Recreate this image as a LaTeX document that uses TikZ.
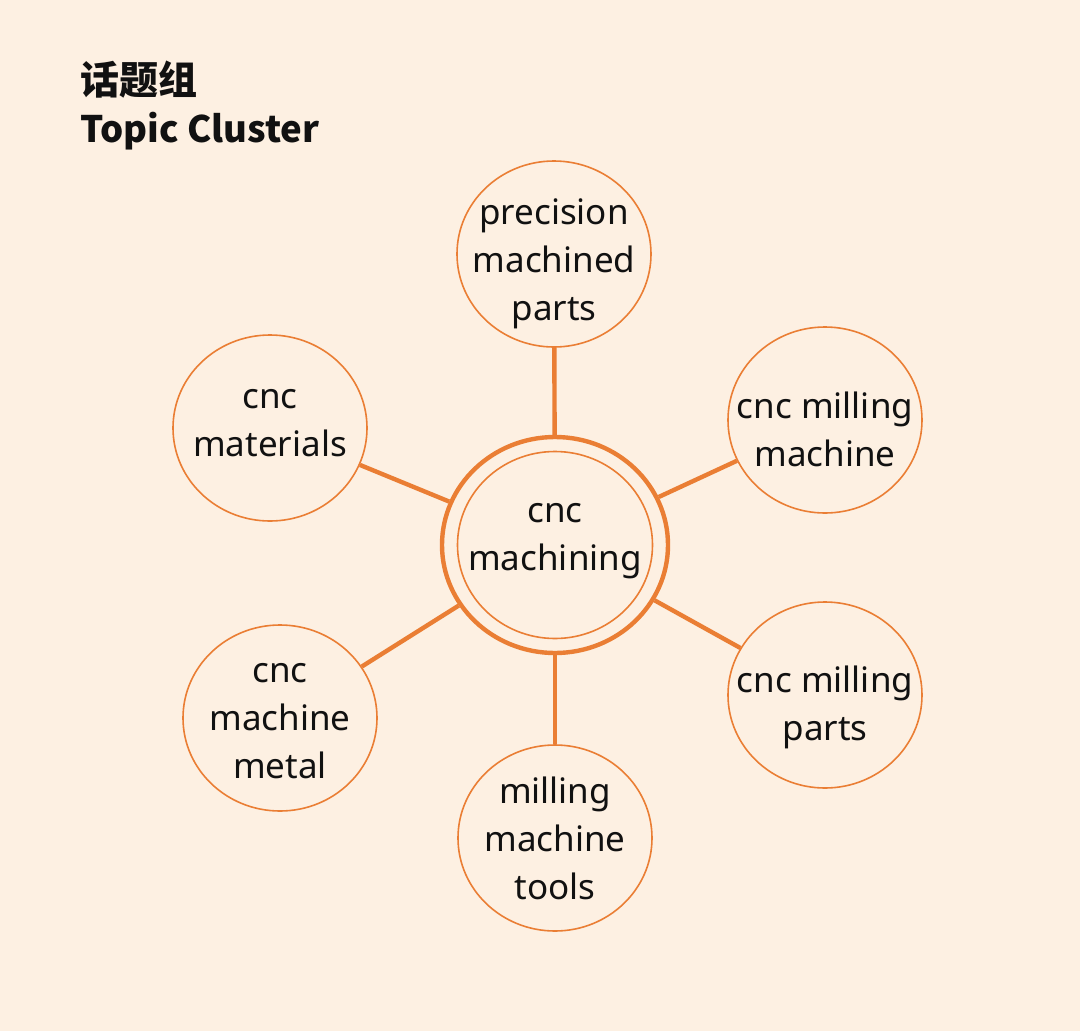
\documentclass[tikz,border=0pt]{standalone}
\usepackage{fontspec}
\setmainfont{Noto Sans}
\newfontfamily\cjk{Noto Sans CJK SC}
\usetikzlibrary{shapes.geometric,positioning}
\definecolor{cream}{RGB}{253,240,226}
\definecolor{tangerine}{RGB}{234,126,52}
\definecolor{ink}{RGB}{17,17,17}
\tikzset{
    topic/.style={
    ellipse,draw=tangerine,line width=1.6pt,minimum width=194pt,minimum height=186pt,inner sep=0pt
    },
    topictext/.style={
    align=center,text=ink,inner sep=0pt,font=\fontsize{35}{48}\selectfont
    },
    hub/.style={
    ellipse,draw=tangerine,line width=4.4pt,minimum width=226pt,minimum height=216pt,inner sep=0pt
    },
    hubcore/.style={
    ellipse,draw=tangerine,line width=1.6pt,minimum width=195pt,minimum height=187pt,inner sep=0pt
    },
    link/.style={
    draw=tangerine,line width=4.4pt
    },
    heading/.style={
    anchor=base west,inner sep=0pt,text=ink
    },
}

\begin{document}
\begin{tikzpicture}[x=1pt, y=-1pt]
   \fill[cream] (0,0) rectangle (1080,1031);
   \useasboundingbox (0,0) rectangle (1080,1031);

   % title
   \node[heading,font=\cjk\bfseries\fontsize{39}{42}\selectfont] (zh) at (80,94) {话题组};
   \node[heading,font=\cjk\bfseries\fontsize{36.5}{42}\selectfont] (en) at (80,142) {Topic Cluster};

   % hub
   \node[hub] (hub) at (555,545) {};
   \node[hubcore,label={[topictext,yshift=4pt]center:cnc\\machining}] (core) at (555,545) {};

   % topics
   \node[topic,label={[topictext,yshift=-10pt]center:precision\\machined\\parts}] (prec) at (554,254) {};
   \node[topic,label={[topictext,yshift=5pt]center:cnc\\materials}] (mat) at (270,428) {};
   \node[topic,label={[topictext,yshift=-9pt]center:cnc milling\\machine}] (mill) at (825,420) {};
   \node[topic,label={[topictext,yshift=-12pt]center:cnc milling\\parts}] (parts) at (825,695) {};
   \node[topic,label={[topictext]center:milling\\machine\\tools}] (tools) at (555,838) {};
   \node[topic,label={[topictext,yshift=-3pt]center:cnc\\machine\\metal}] (metal) at (280,718) {};

  \path[link]
    (hub) edge (prec)
          edge (mat)
          edge (mill)
          edge (parts)
          edge (tools)
          edge (metal);
  \end{tikzpicture}
\end{document}
